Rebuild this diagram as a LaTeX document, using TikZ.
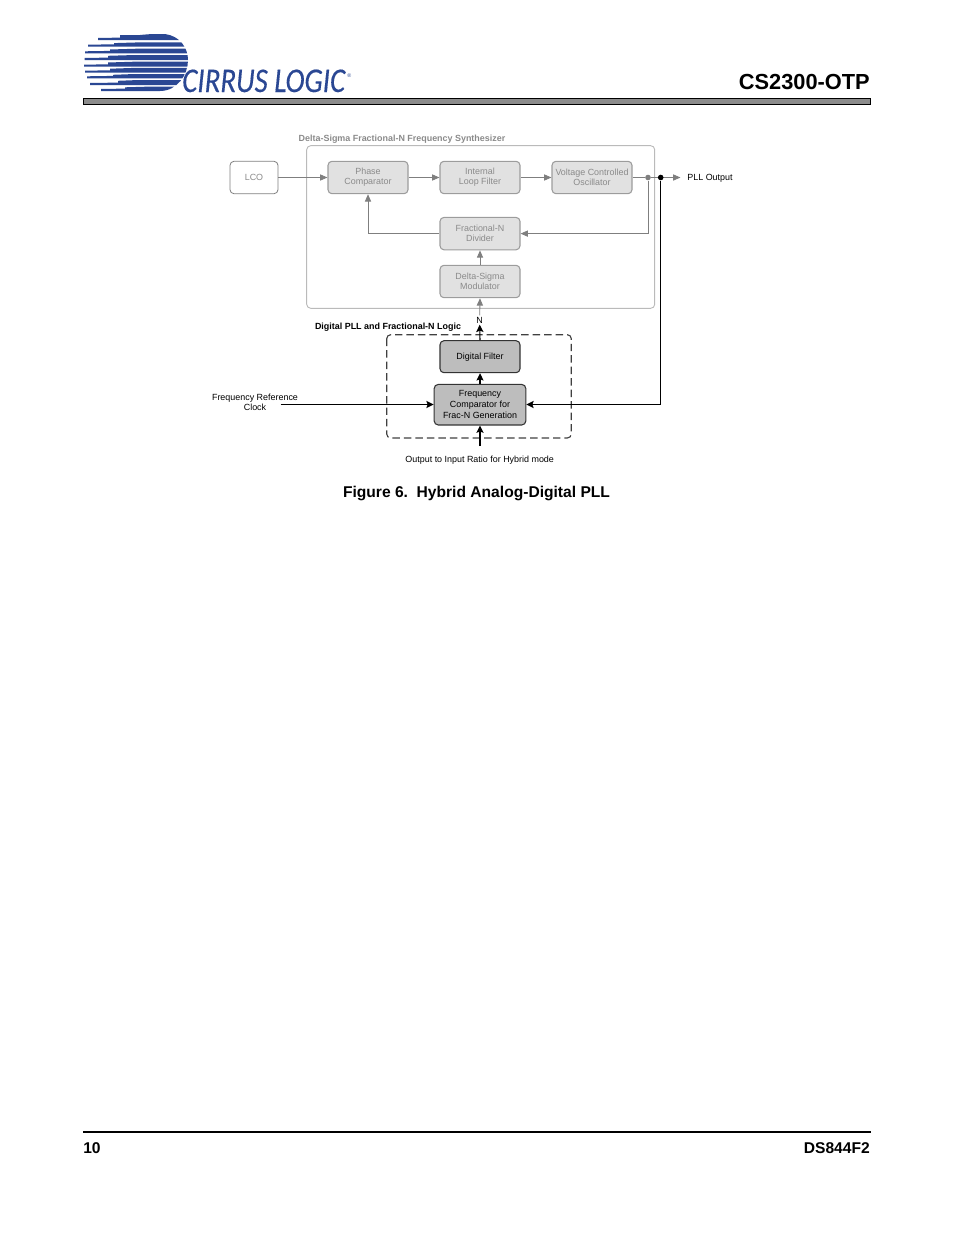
\documentclass[tikz,border=0pt]{standalone}
\usepackage{fontspec}
\setmainfont{Liberation Sans}
\newfontfamily\logofont[FakeBold=0.35]{Carlito}
\usetikzlibrary{arrows.meta}
\definecolor{logoblue}{HTML}{2A4793}
\definecolor{ghost}{HTML}{8A8A8A}
\definecolor{ghostline}{HTML}{7F7F7F}
\definecolor{ghostfill}{HTML}{E1E1E1}
\definecolor{ghostedge}{HTML}{9C9C9C}
\definecolor{darkfill}{HTML}{BDBDBD}
\definecolor{barfill}{HTML}{8C8C8C}
\tikzset{
  x=0.75pt,y=-0.75pt,
  small/.style={font=\fontsize{6.7}{7.7}\selectfont,align=center,inner sep=0pt},
  smallbold/.style={font=\fontsize{6.7}{8}\selectfont\bfseries,inner sep=0pt},
  ghostbox/.style={small,draw=ghostedge,fill=ghostfill,text=ghost,rounded corners=3pt,line width=.8pt,minimum width=60pt,minimum height=24.3pt},
  openbox/.style={small,draw=ghostline,fill=white,text=ghost,rounded corners=3pt,line width=.6pt,minimum width=36pt,minimum height=24.3pt},
  darkbox/.style={small,draw=black!80,fill=darkfill,text=black,rounded corners=3pt,line width=.8pt,minimum width=60pt,minimum height=24pt},
  glink/.style={draw=ghostline,line width=.65pt,-{Triangle[length=5.5pt,width=4.6pt,fill=ghostline]}},
  gplain/.style={draw=ghostline,line width=.65pt},
  blink/.style={draw=black,line width=.8pt,-{Stealth[length=5.5pt,width=5.4pt,inset=1pt]}},
  dot/.style={circle,inner sep=0pt,minimum size=4.2pt},
  head/.style={inner sep=0pt,font=\fontsize{16.35}{18}\selectfont\bfseries},
  foot/.style={inner sep=0pt,font=\fontsize{11.7}{14}\selectfont\bfseries},
}
\begin{document}
\begin{tikzpicture}
\useasboundingbox (0,0) rectangle (954,1235);
% logo
\begin{scope}
\clip (80,35) -- (140,35) .. controls (150,34) and (160,33.5) .. (165,34)
  .. controls (180,36) and (188,48) .. (188,60)
  .. controls (188,75) and (177,91) .. (160,91) -- (80,91) -- cycle;
\foreach \t/\b/\xl/\xm/\xb in {
  34/40/98/120/147,
  42.3/46.7/88/114/142,
  48.7/53.3/85/110/137,
  55/60/84.5/108/135,
  61.7/66.7/84/108/134,
  67.9/72.7/85/110/134,
  74/78.3/87/113/135,
  80/85/90/118/139,
  86.5/91/101/125/153}{
  \fill[logoblue] (\xl,\b-2) -- (\xm,\b-2.4) -- (\xm,\t+.8) -- (\xb,\t) -- (200,\t) -- (200,\b) -- (\xb,\b) -- (\xl,\b) -- cycle;
}
\end{scope}
\node[anchor=base west,inner sep=0pt,text=logoblue,xscale=.835,font=\fontsize{26}{28}\logofont\itshape] (logotext) at (182,92) {CIRRUS LOGIC};
\node[anchor=base west,inner sep=0pt,text=logoblue,font=\fontsize{4}{5}\selectfont] (logoreg) at (347,77) {®};
% header and footer
\node[head,anchor=base east] (title) at (870,89) {CS2300-OTP};
\draw[draw=black,fill=barfill,line width=.6pt] (83.5,98.8) rectangle (870.5,104);
\draw[black,line width=1.1pt] (83,1132) -- (871,1132);
\node[foot,anchor=base west] (pageno) at (83,1153) {10};
\node[foot,anchor=base east] (docno) at (870,1153) {DS844F2};
\node[foot,anchor=base] (caption) at (476.5,497) {Figure 6.\ \ Hybrid Analog-Digital PLL};
% synthesizer
\draw[draw=ghostedge!70,line width=.7pt,rounded corners=3pt] (306.7,145.7) rectangle (654.7,308.3);
\node[smallbold,text=ghost] (synthlabel) at (402,138.8) {Delta-Sigma Fractional-N Frequency Synthesizer};
\node[openbox] (lco) at (254,177.5) {LCO};
\node[ghostbox] (phase) at (368,177.5) {Phase\\Comparator};
\node[ghostbox] (loop) at (480,177.5) {Internal\\Loop Filter};
\node[ghostbox] (vco) at (592,177.5) {Voltage Controlled\\Oscillator};
\node[ghostbox] (frac) at (480,233.6) {Fractional-N\\Divider};
\node[ghostbox] (dsm) at (480,281.5) {Delta-Sigma\\Modulator};
\node[dot,fill=ghostline] (jg) at (648,177.5) {};
\node[small] (pll) at (710,178) {PLL Output};
\coordinate (pllend) at (680.5,177.5);
\draw[glink] (lco) -- (phase);
\draw[glink] (phase) -- (loop);
\draw[glink] (loop) -- (vco);
\draw[gplain] (vco) -- (jg);
\draw[glink] (jg) -- (pllend);
\draw[glink] (jg) |- (frac.east);
\draw[glink] (frac.west) -| (phase.south);
\draw[glink] (dsm) -- (frac);
\node[dot,fill=black] (jb) at (660.7,177.5) {};
% digital part
\node[small,inner sep=1pt] (n) at (479.7,320) {N};
\draw[glink] (n.north) -- (dsm.south);
\draw[draw=black!75,line width=.85pt,dash pattern=on 5.6pt off 3pt,rounded corners=3pt] (386.7,334.7) rectangle (571.3,438);
\node[smallbold,text=black] (digilabel) at (388,327.3) {Digital PLL and Fractional-N Logic};
\node[darkbox] (df) at (480,356.7) {Digital Filter};
\node[darkbox,minimum width=68.7pt,minimum height=30.4pt,font=\fontsize{6.7}{8.2}\selectfont] (fc) at (480,404.7) {Frequency\\Comparator for\\Frac-N Generation};
\node[small,anchor=center] (frl) at (255,402.3) {Frequency Reference\\Clock};
\node[small] (ratio) at (479.7,459.7) {Output to Input Ratio for Hybrid mode};
\coordinate (clk) at (280.5,404.5);
\coordinate (ratiotop) at (480,446);
\draw[blink] (df.north) -- (n.south);
\draw[blink] (fc) -- (df);
\draw[blink] (clk) -- (fc.west |- clk);
\draw[blink] (jb) |- (fc.east |- clk);
\draw[blink] (ratiotop) -- (fc.south);
\end{tikzpicture}
\end{document}
